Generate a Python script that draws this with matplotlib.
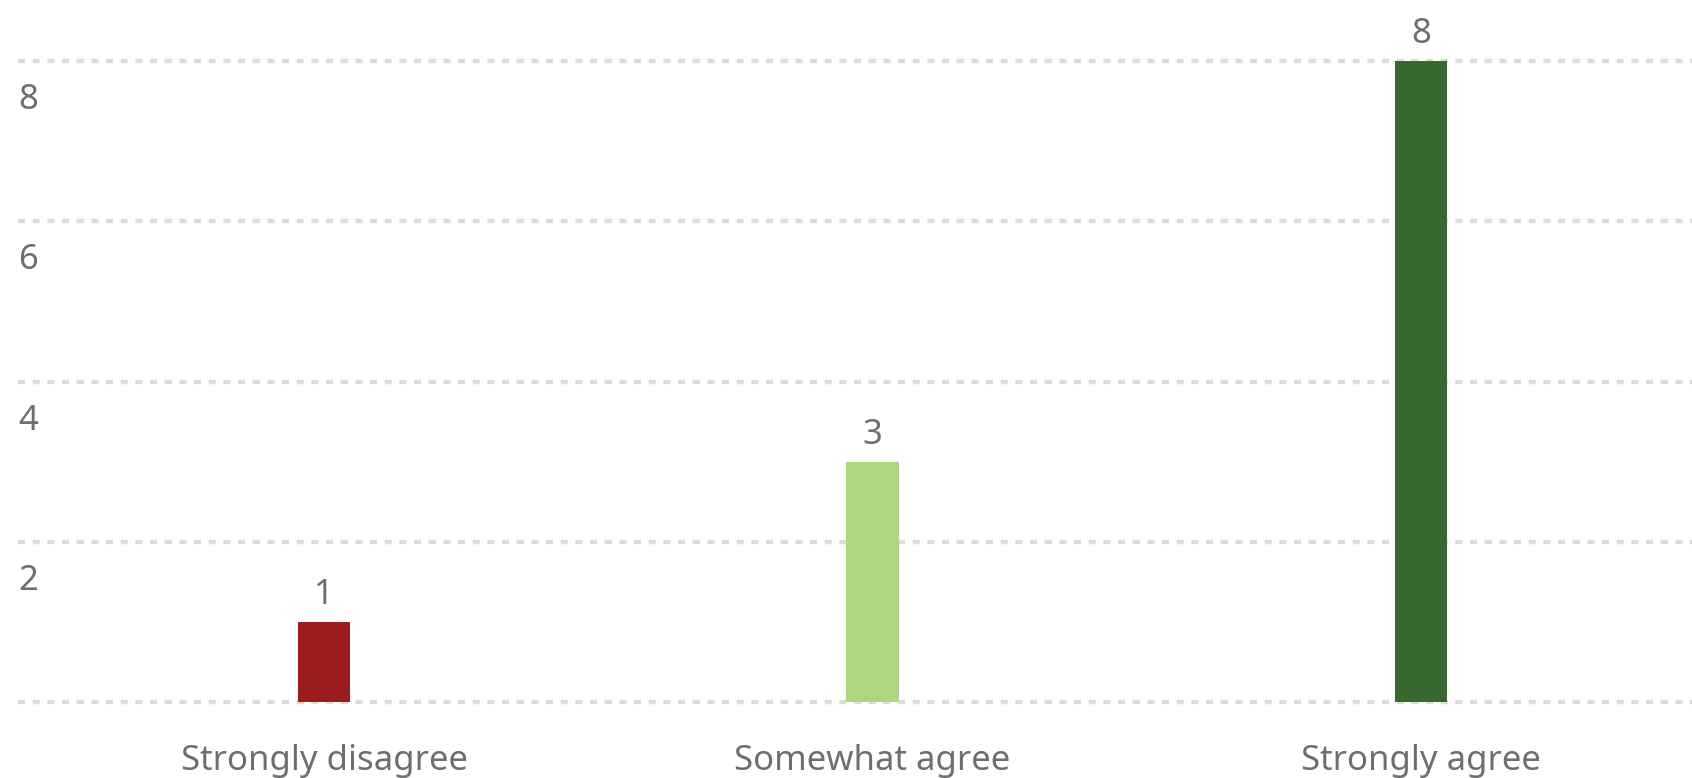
import numpy as np
import matplotlib
matplotlib.use("Agg")
import matplotlib.pyplot as plt

categories = ["Strongly disagree", "Somewhat agree", "Strongly agree"]
counts = [1, 3, 8]
bar_colors = ["#9b1b1f", "#b0d57f", "#386a30"]
y_ticks = [0, 2, 4, 6, 8]

plt.rcParams['font.family'] = ['Noto Sans', 'DejaVu Sans']
text_color = "#6e6e6e"

W, H = 1692, 778
fig = plt.figure(figsize=(W / 100, H / 100), dpi=100)
fig.patch.set_facecolor("white")

# axes box in pixel terms: left 18, right edge, baseline at y=702, 8 at y=61
ax = fig.add_axes([18 / W, (H - 702) / H, 1 - 18 / W, (702 - 61) / H])

x = np.arange(len(categories))
ax.bar(x, counts, width=0.095, color=bar_colors, zorder=3)
ax.set_xlim(-0.558, 2.494)
ax.set_ylim(0, 8)

# dotted grid
for v in y_ticks:
    ax.axhline(v, color="#dcdcdc", lw=3.2, linestyle=(0, (1.6, 1.7)),
               zorder=1, clip_on=False)

# y labels sit just under their grid line
for v in y_ticks[1:]:
    ax.annotate(str(v), xy=(0, v), xycoords=ax.get_yaxis_transform(),
                xytext=(0, -16), textcoords="offset points",
                ha="left", va="top", fontsize=25, color=text_color)

# value labels above bars
for xi, c in zip(x, counts):
    ax.annotate(str(c), xy=(xi, c), xytext=(0, 7), textcoords="offset points",
                ha="center", va="bottom", fontsize=25, color=text_color,
                annotation_clip=False)

ax.set_xticks(x)
ax.set_xticklabels(categories, fontsize=25, color=text_color)
ax.tick_params(axis="x", length=0, pad=30)
ax.set_yticks([])
for s in ax.spines.values():
    s.set_visible(False)

fig.savefig("out.png", dpi=100)
